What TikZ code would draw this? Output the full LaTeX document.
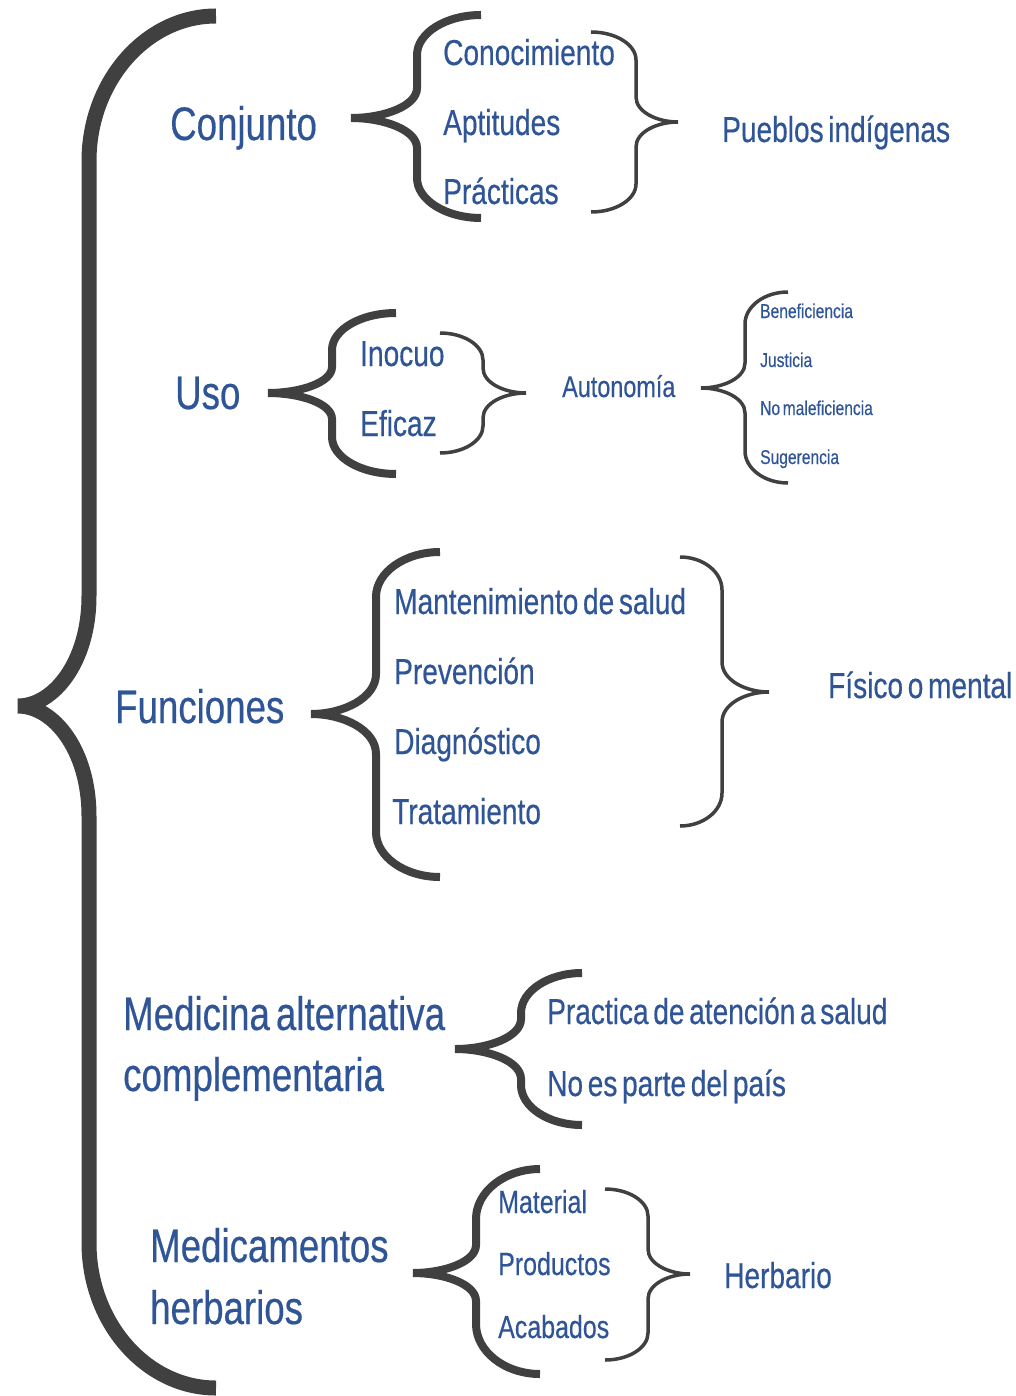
\documentclass[tikz,border=0pt]{standalone}
\usepackage{fontspec}
\setmainfont{Liberation Sans}[FakeStretch=0.78,FakeBold=0.4,WordSpace=0.6]
\definecolor{txtblue}{HTML}{2F5597}
\definecolor{brgray}{HTML}{404040}
% #1 style, #2 tip x, #3 tip y, #4 vertical x, #5 end x, #6 top y, #7 bottom y, #8 corner dy, #9 middle dy
\newcommand\drawbrace[9]{%
  \draw[#1] (#5,#6) .. controls ({#4+0.45*(#5-#4)},#6) and (#4,{#6+0.45*#8}) .. (#4,{#6+#8})
    -- (#4,{#3-#9})
    .. controls (#4,{#3-0.4*#9}) and ({#2+0.5*(#4-#2)},#3) .. (#2,#3)
    .. controls ({#2+0.5*(#4-#2)},#3) and (#4,{#3+0.4*#9}) .. (#4,{#3+#9})
    -- (#4,{#7-#8})
    .. controls (#4,{#7-0.45*#8}) and ({#4+0.45*(#5-#4)},#7) .. (#5,#7);}
\begin{document}
\begin{tikzpicture}[x=1pt,y=-1pt,
  lbl/.style={anchor=base west, inner sep=0pt, text=txtblue},
  big/.style={lbl, font=\fontsize{47}{56}\selectfont},
  mid/.style={lbl, font=\fontsize{36}{43}\selectfont},
  med/.style={lbl, font=\fontsize{32}{38}\selectfont},
  aut/.style={lbl, font=\fontsize{30}{36}\selectfont},
  sml/.style={lbl, font=\fontsize{20}{24}\selectfont},
  bbig/.style={draw=brgray, line width=15pt, line join=miter},
  bthick/.style={draw=brgray, line width=8pt, line join=miter},
  bthin/.style={draw=brgray, line width=3.5pt, line join=miter}]
\fill[white] (0,0) rectangle (1016,1396);
\path[use as bounding box] (0,0) rectangle (1016,1396);

% big brace
\drawbrace{bbig}{18}{706}{89}{216}{16}{1388}{145}{110}

% Row 1
\node[big] (conj) at (170,140) {Conjunto};
\drawbrace{bthick}{351}{118}{417}{481}{15}{218}{40}{30}
\node[mid] (cono) at (443,65) {Conocimiento};
\node[mid] (apti) at (443,135) {Aptitudes};
\node[mid] (prac) at (443,204) {Prácticas};
\drawbrace{bthin}{678}{122}{636}{591}{32}{212}{28}{25}
\node[mid] (pueb) at (722,142) {Pueblos indígenas};

% Row 2
\node[big] (uso) at (175,409) {Uso};
\drawbrace{bthick}{268}{393}{332}{396}{313}{474}{37}{26}
\node[mid] (inoc) at (360,366) {Inocuo};
\node[mid] (efic) at (360,436) {Eficaz};
\drawbrace{bthin}{526}{393}{483}{440}{333}{453}{27}{25}
\node[aut] (auto) at (562,397) {Autonomía};
\drawbrace{bthin}{701}{388}{745}{788}{292}{483}{32}{25}
\node[sml] (bene) at (760,318) {Beneficiencia};
\node[sml] (just) at (760,367) {Justicia};
\node[sml] (noma) at (760,415) {No maleficiencia};
\node[sml] (suge) at (760,464) {Sugerencia};

% Row 3
\node[big] (func) at (115,723) {Funciones};
\drawbrace{bthick}{311}{714}{376}{440}{552}{877}{45}{40}
\node[mid] (mant) at (394,614) {Mantenimiento de salud};
\node[mid] (prev) at (394,684) {Prevención};
\node[mid] (diag) at (394,754) {Diagnóstico};
\node[mid] (trat) at (392,824) {Tratamiento};
\drawbrace{bthin}{769}{692}{722}{680}{557}{826}{33}{30}
\node[mid] (fisi) at (828,698) {Físico o mental};

% Row 4
\node[big] (med1) at (123,1030) {Medicina alternativa};
\node[big] (med2) at (123,1091) {complementaria};
\drawbrace{bthick}{455}{1049}{521}{582}{973}{1125}{40}{30}
\node[mid] (pate) at (547,1024) {Practica de atención a salud};
\node[mid] (noes) at (547,1096) {No es parte del país};

% Row 5
\node[big] (mhe1) at (150,1262) {Medicamentos};
\node[big] (mhe2) at (150,1324) {herbarios};
\drawbrace{bthick}{413}{1273}{476}{540}{1169}{1374}{50}{28}
\node[med] (mate) at (498,1213) {Material};
\node[med] (prod) at (498,1275) {Productos};
\node[med] (acab) at (498,1338) {Acabados};
\drawbrace{bthin}{690}{1274}{648}{605}{1189}{1360}{27}{25}
\node[mid] (herb) at (724,1288) {Herbario};
\end{tikzpicture}
\end{document}
